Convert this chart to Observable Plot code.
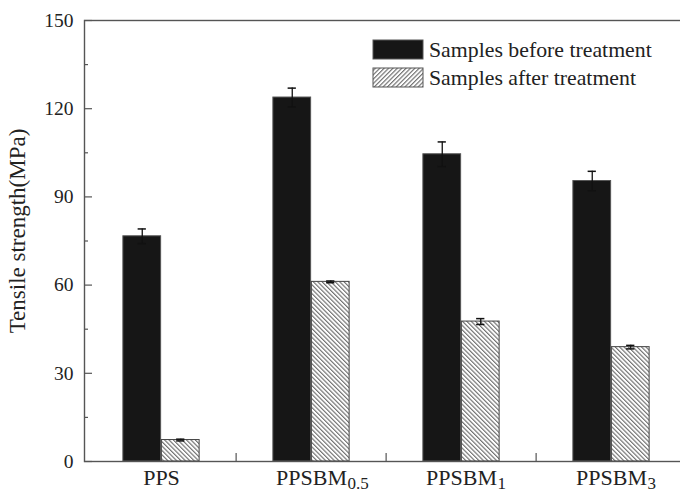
<!DOCTYPE html>
<html><head><meta charset="utf-8">
<script src="https://cdn.jsdelivr.net/npm/d3@7"></script>
<script src="https://cdn.jsdelivr.net/npm/@observablehq/plot@0.6"></script>
<style>
body{margin:0;background:#fff}
#chart svg{display:block;font-family:"Liberation Serif","Times New Roman",serif}
</style>
</head><body><div id="chart"></div>
<script>
// ---- data ----
const groups = ["PPS", "PPSBM0.5", "PPSBM1", "PPSBM3"];
const groupMain = ["PPS", "PPSBM", "PPSBM", "PPSBM"];
const groupSub = ["", "0.5", "1", "3"];
const series = ["Samples before treatment", "Samples after treatment"];
const beforeValues = [76.6, 123.8, 104.5, 95.4];
const beforeErr = [2.5, 3.2, 4.2, 3.3];
const afterValues = [7.3, 61.1, 47.6, 38.9];
const afterErr = [0.3, 0.3, 1.0, 0.6];
const yTicks = [0, 30, 60, 90, 120, 150];
const yMinorTicks = [15, 45, 75, 105, 135];
const yLabel = "Tensile strength(MPa)";

// ---- layout ----
const W = 680, H = 492, ML = 84, MR = -7, MT = 20, MB = 31;
const fw = W - ML - MR, fh = H - MT - MB;
const bw = fw / groups.length;
const barW = 38.5, capW = 9;
const FONT = '"Liberation Serif","Times New Roman",serif';

const before = groups.map((g, i) => ({group: g, value: beforeValues[i], err: beforeErr[i]}));
const after = groups.map((g, i) => ({group: g, value: afterValues[i], err: afterErr[i]}));
const labels = groups.map((g, i) => ({group: g, main: groupMain[i], sub: groupSub[i]}));

function errorMarks(rows, offset) {
  const c = offset * barW / 2;
  return [
    Plot.ruleX(rows, {x: "group", y1: d => d.value - d.err, y2: d => d.value + d.err, dx: c, stroke: "#111", strokeWidth: 1.3}),
    Plot.tickY(rows, {x: "group", y: d => d.value + d.err, insetLeft: bw / 2 + c - capW / 2, insetRight: bw / 2 - c - capW / 2, stroke: "#111", strokeWidth: 1.5}),
    Plot.tickY(rows, {x: "group", y: d => d.value - d.err, insetLeft: bw / 2 + c - capW / 2, insetRight: bw / 2 - c - capW / 2, stroke: "#111", strokeWidth: 1.5})
  ];
}

const plot = Plot.plot({
  width: W, height: H,
  marginLeft: ML, marginRight: MR, marginTop: MT, marginBottom: MB,
  style: {fontFamily: FONT, background: "#fff", color: "#222"},
  x: {type: "band", domain: groups, padding: 0, axis: null},
  y: {domain: [0, 150], axis: null},
  marks: [
    Plot.barY(before, {x: "group", y: "value", insetLeft: bw / 2 - barW, insetRight: bw / 2, fill: "#161616", stroke: "#555", strokeWidth: 1}),
    Plot.barY(after, {x: "group", y: "value", insetLeft: bw / 2, insetRight: bw / 2 - barW, fill: "url(#hatchBar)", stroke: "#444", strokeWidth: 1}),
    ...errorMarks(before, -1),
    ...errorMarks(after, 1),
    Plot.frame({stroke: "#555", strokeWidth: 1.4}),
    Plot.ruleY(yTicks, {insetRight: fw - 8, stroke: "#555", strokeWidth: 1.2}),
    Plot.ruleY(yMinorTicks, {insetRight: fw - 4, stroke: "#555", strokeWidth: 1.2}),
    Plot.ruleX(groups.slice(1), {x: d => d, dx: -bw / 2, insetTop: fh - 8, stroke: "#555", strokeWidth: 1.2}),
    Plot.axisY({ticks: yTicks, tickSize: 0, tickPadding: 11, fontSize: 19.5, label: null, fill: "#222"}),
    Plot.text(labels, {x: "group", text: "main", frameAnchor: "bottom", dy: 23, lineAnchor: "bottom", fontSize: 22, fill: "#222"}),
    Plot.text(labels, {x: "group", text: "sub", frameAnchor: "bottom", dx: 36, dy: 27, lineAnchor: "bottom", textAnchor: "start", fontSize: 17, fill: "#222"}),
    Plot.text([yLabel], {frameAnchor: "left", dx: -60, dy: -10, rotate: -90, lineAnchor: "bottom", textAnchor: "middle", fontSize: 23, fill: "#222"})
  ]
});

const svg = d3.select(plot);
const defs = svg.insert("defs", ":first-child");
function hatch(id, angle) {
  const p = defs.append("pattern").attr("id", id).attr("patternUnits", "userSpaceOnUse")
    .attr("width", 3.1).attr("height", 10).attr("patternTransform", `rotate(${angle})`);
  p.append("rect").attr("width", 3.1).attr("height", 10).attr("fill", "#fff");
  p.append("line").attr("x1", 0.6).attr("x2", 0.6).attr("y1", 0).attr("y2", 10)
    .attr("stroke", "#6a6a6a").attr("stroke-width", 1.1);
}
hatch("hatchBar", -45);
hatch("hatchLegend", 45);

// legend
const lg = svg.append("g").attr("font-family", FONT).attr("font-size", 21.8)
  .attr("fill", "#222").attr("text-anchor", "start");
const legendItems = [
  {label: series[0], fill: "#161616", y: 40},
  {label: series[1], fill: "url(#hatchLegend)", y: 68}
];
legendItems.forEach(it => {
  lg.append("rect").attr("x", 373).attr("y", it.y).attr("width", 50).attr("height", 19)
    .attr("fill", it.fill).attr("stroke", "#555").attr("stroke-width", 1);
  lg.append("text").attr("x", 429).attr("y", it.y + 17).attr("text-anchor", "start").text(it.label);
});

document.getElementById("chart").append(plot);
</script>
</body></html>
